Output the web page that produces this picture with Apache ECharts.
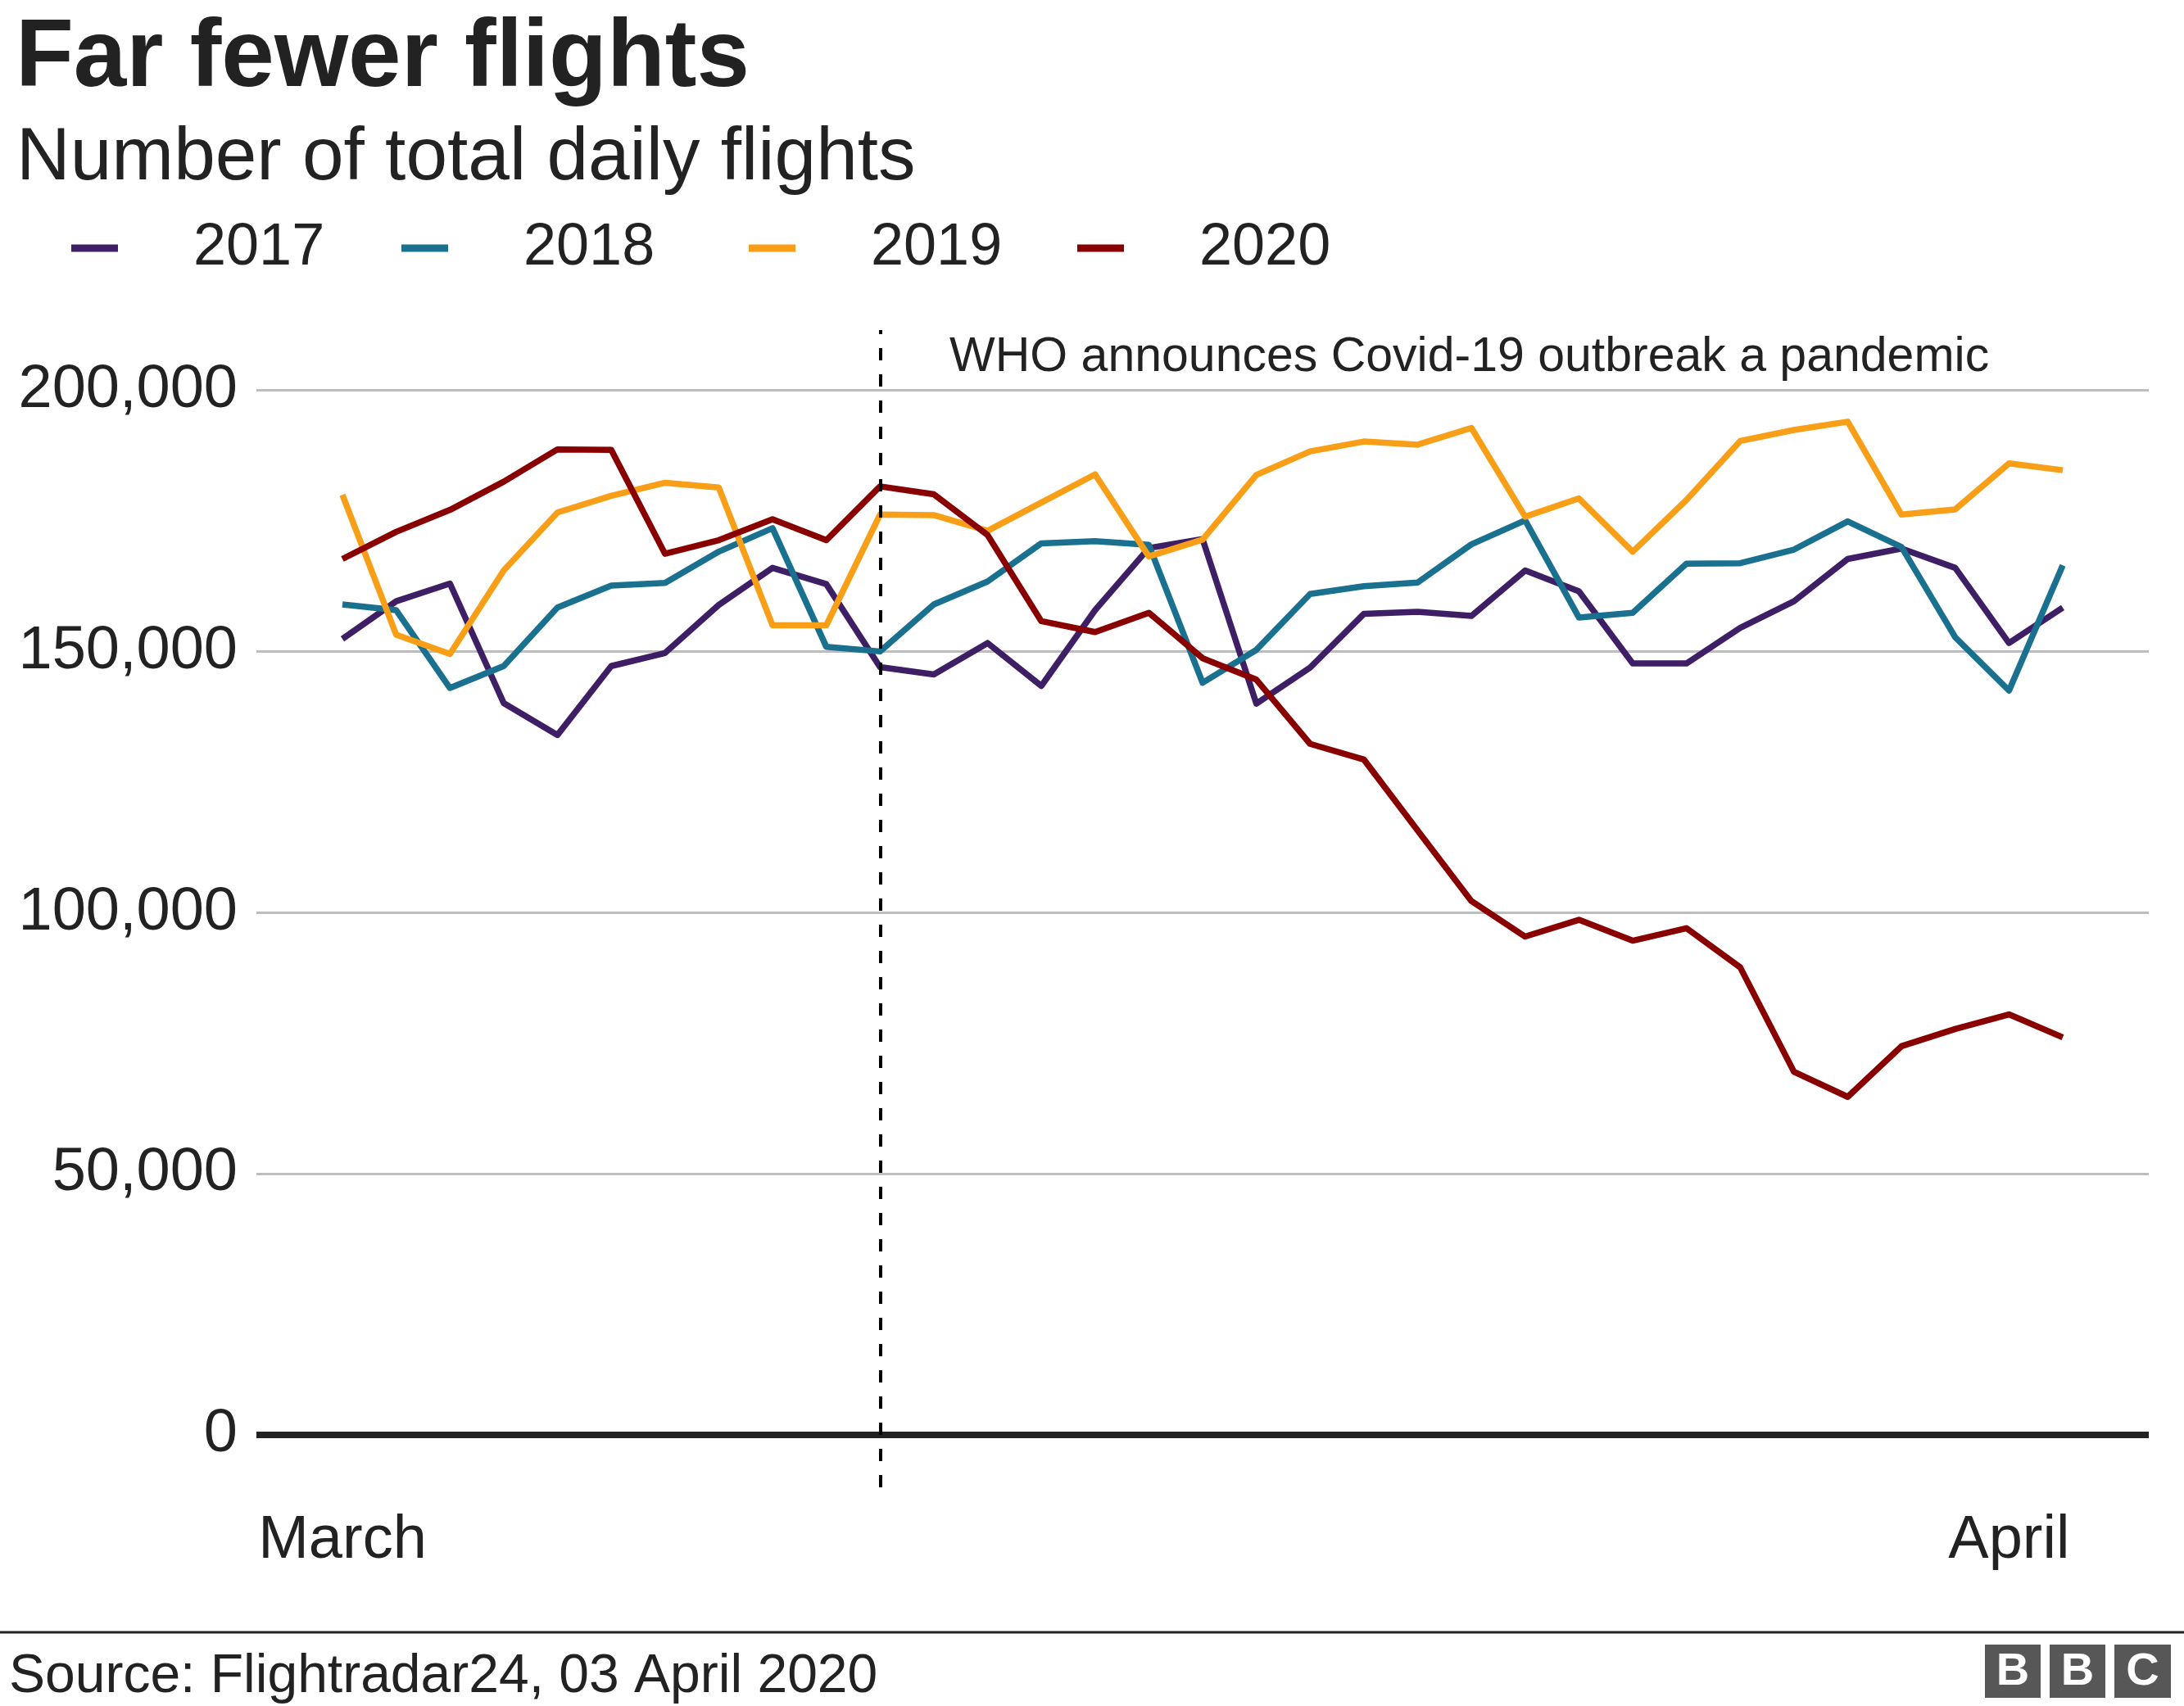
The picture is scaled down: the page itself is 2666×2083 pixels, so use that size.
<!DOCTYPE html>
<html>
<head>
<meta charset="utf-8">
<script src="https://cdn.jsdelivr.net/npm/echarts@6/dist/echarts.min.js"></script>
<style>
html,body{margin:0;padding:0;background:#ffffff;}
#chart{width:2666px;height:2083px;}
</style>
</head>
<body>
<div id="chart"></div>
<script>
// ---- data ----
const days = ['2020-03-01','2020-03-02','2020-03-03','2020-03-04','2020-03-05','2020-03-06','2020-03-07','2020-03-08',
  '2020-03-09','2020-03-10','2020-03-11','2020-03-12','2020-03-13','2020-03-14','2020-03-15','2020-03-16',
  '2020-03-17','2020-03-18','2020-03-19','2020-03-20','2020-03-21','2020-03-22','2020-03-23','2020-03-24',
  '2020-03-25','2020-03-26','2020-03-27','2020-03-28','2020-03-29','2020-03-30','2020-03-31','2020-04-01','2020-04-02'];
const tickDays = ['2020-03-01', '2020-04-01'];
const tickLabels = ['March', 'April'];
const yTicks = [0, 50000, 100000, 150000, 200000];
const seriesNames = ['2017', '2018', '2019', '2020'];
const flights2017 = [152400,159600,163000,140100,134000,147200,149700,158900,166000,162900,147000,145600,151600,143400,157900,169800,171500,140000,146900,157200,157600,156800,165500,161500,147700,147700,154500,159600,167700,169700,166000,151600,158400];
const flights2018 = [159000,157900,143000,147200,158400,162600,163100,169100,173600,150900,150000,159000,163400,170700,171100,170400,144000,150300,161000,162500,163200,170500,175100,156500,157400,166800,166900,169500,174900,170000,152700,142500,166500];
const flights2019 = [180000,153200,149500,165500,176600,179800,182300,181400,155000,155000,176200,176100,173100,178500,183900,168200,171400,183800,188300,190200,189600,192800,175800,179300,169100,179000,190300,192400,194000,176200,177200,186000,184700];
const flights2020 = [167700,172900,177100,182500,188700,188600,168700,171300,175300,171300,181600,180100,172300,155800,153700,157400,148700,144600,132300,129300,115700,102200,95400,98600,94600,97000,89500,69500,64700,74400,77700,80500,76100];
const eventDay = '2020-03-11';
const eventLabel = 'WHO announces Covid-19 outbreak a pandemic';
const titleText = 'Far fewer flights';
const subtitleText = 'Number of total daily flights';
const sourceText = 'Source: Flightradar24, 03 April 2020';

// ---- styling ----
const FONT = "'Liberation Sans', Arial, Helvetica, sans-serif";
const TXT = '#222222';
const colors = ['#3e1f66', '#19708f', '#f89e17', '#880000'];
const legendLefts = [87, 490, 914, 1315];
const allValues = [flights2017, flights2018, flights2019, flights2020];

const n = days.length;
const xMin = -(n - 1) * 0.05;
const xMax = (n - 1) * 1.05;

const chart = echarts.init(document.getElementById('chart'), null, {renderer: 'canvas'});

const dataSeries = seriesNames.map((name, k) => ({
  name: name,
  type: 'line',
  z: 10,
  data: allValues[k].map((v, i) => [i, v]),
  showSymbol: false,
  symbol: 'none',
  color: colors[k],
  lineStyle: {color: colors[k], width: 7.5, join: 'round', cap: 'butt'},
  itemStyle: {color: colors[k], borderWidth: 0},
  emphasis: {disabled: true},
  animation: false,
  silent: true
}));

// gridlines on first series
dataSeries[0].markLine = {
  silent: true,
  symbol: 'none',
  animation: false,
  z: 2,
  label: {show: false},
  emphasis: {disabled: true},
  data: yTicks.map(v => ({
    yAxis: v,
    lineStyle: v === 0 ? {color: '#222222', width: 8, type: 'solid'} : {color: '#bdbdbd', width: 3, type: 'solid'}
  }))
};
// event line on last series
dataSeries[3].markLine = {
  silent: true,
  symbol: 'none',
  animation: false,
  z: 20,
  label: {show: false},
  emphasis: {disabled: true},
  lineStyle: {color: '#000000', width: 4, type: [15, 17]},
  data: [{xAxis: days.indexOf(eventDay)}]
};

const option = {
  backgroundColor: '#ffffff',
  animation: false,
  textStyle: {fontFamily: FONT},
  title: [
    {text: titleText, left: 19, top: 15, padding: 0,
     textStyle: {fontFamily: FONT, fontSize: 116, fontWeight: 'bold', color: TXT}},
    {text: subtitleText, left: 20, top: 148, padding: 0,
     textStyle: {fontFamily: FONT, fontSize: 91, fontWeight: 'normal', color: TXT}},
    {text: eventLabel, left: 1159, top: 407, padding: 0,
     textStyle: {fontFamily: FONT, fontSize: 59, fontWeight: 'normal', color: TXT}},
    {text: sourceText, left: 11, top: 2015, padding: 0,
     textStyle: {fontFamily: FONT, fontSize: 66, fontWeight: 'normal', color: TXT}}
  ],
  legend: seriesNames.map((name, k) => ({
    data: [name],
    left: legendLefts[k],
    top: 267,
    padding: 0,
    icon: 'rect',
    itemWidth: 57,
    itemHeight: 9,
    selectedMode: false,
    itemStyle: {borderWidth: 0},
    textStyle: {fontFamily: FONT, fontSize: 72, color: TXT, padding: [0, 0, 0, 87]}
  })),
  grid: {left: 313, right: 43, top: 403, bottom: 267, containLabel: false},
  xAxis: {
    type: 'value',
    min: xMin,
    max: xMax,
    axisLine: {show: false},
    axisTick: {show: false},
    splitLine: {show: false},
    axisLabel: {
      customValues: tickDays.map(d => days.indexOf(d)),
      formatter: v => tickLabels[tickDays.indexOf(days[Math.round(v)])] || '',
      fontFamily: FONT, fontSize: 74, color: TXT, margin: 29
    }
  },
  yAxis: {
    type: 'value',
    min: -10070,
    max: 211540,
    axisLine: {show: false},
    axisTick: {show: false},
    splitLine: {show: false},
    axisLabel: {
      customValues: yTicks,
      formatter: v => Number(v).toLocaleString('en-US'),
      fontFamily: FONT, fontSize: 74, color: TXT, margin: 23,
      padding: [12, 0, 0, 0]
    }
  },
  graphic: [
    {type: 'line', shape: {x1: 0, y1: 1993, x2: 2666, y2: 1993}, style: {stroke: '#222222', lineWidth: 3}, silent: true},
    {type: 'rect', shape: {x: 2423, y: 2008, width: 68, height: 65}, style: {fill: '#575757'}, silent: true},
    {type: 'rect', shape: {x: 2502, y: 2008, width: 68, height: 65}, style: {fill: '#575757'}, silent: true},
    {type: 'rect', shape: {x: 2581, y: 2008, width: 69, height: 65}, style: {fill: '#575757'}, silent: true},
    {type: 'text', x: 2457, y: 2042, style: {text: 'B', fill: '#ffffff', font: 'bold 56px ' + FONT, align: 'center', verticalAlign: 'middle'}, silent: true},
    {type: 'text', x: 2536, y: 2042, style: {text: 'B', fill: '#ffffff', font: 'bold 56px ' + FONT, align: 'center', verticalAlign: 'middle'}, silent: true},
    {type: 'text', x: 2615.5, y: 2042, style: {text: 'C', fill: '#ffffff', font: 'bold 56px ' + FONT, align: 'center', verticalAlign: 'middle'}, silent: true}
  ],
  series: dataSeries
};

chart.setOption(option);
</script>
</body>
</html>
